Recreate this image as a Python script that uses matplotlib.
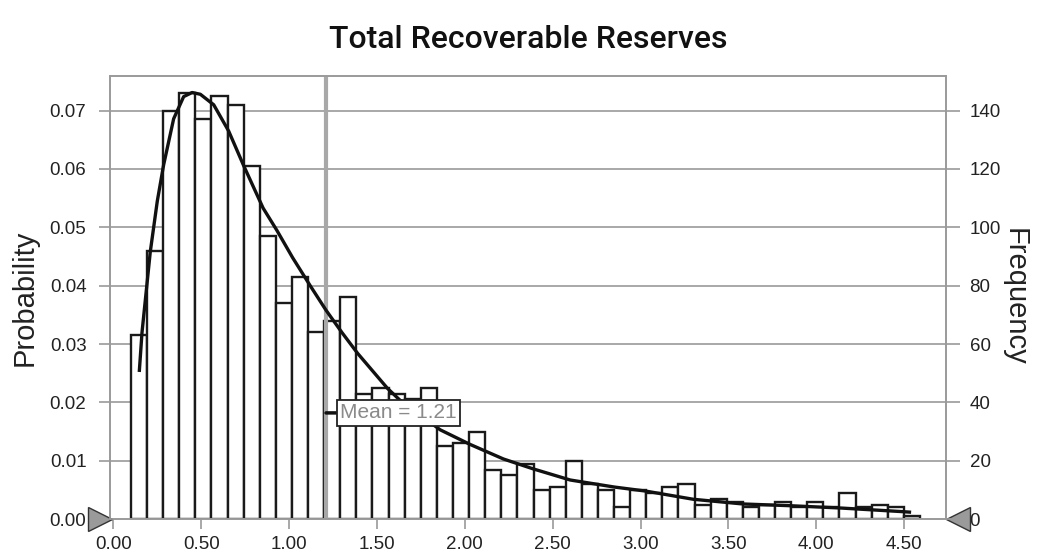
import matplotlib
matplotlib.use('Agg')
import matplotlib.pyplot as plt
import numpy as np

plt.rcParams['font.family'] = ['Liberation Sans', 'DejaVu Sans']

# simulation output: 2000 trials, 49 bins between 0.10 and 4.59
trials = 2000
bin_lo, bin_hi, n_bins = 0.10, 4.59, 49
freq = [63, 92, 140, 146, 137, 145, 142, 121, 97, 74,
        83, 64, 68, 76, 43, 45, 43, 41, 45, 25,
        26, 30, 17, 15, 19, 10, 11, 20, 12, 10,
        4, 10, 9, 11, 12, 5, 7, 6, 4, 5,
        6, 4, 6, 4, 9, 4, 5, 4, 1]
mean_val = 1.21

# fitted curve
fit_x = [0.148, 0.163, 0.21, 0.25, 0.286, 0.343, 0.40, 0.448, 0.495, 0.571,
         0.656, 0.741, 0.852, 0.93, 1.02, 1.12, 1.21, 1.30, 1.39, 1.56,
         1.63, 1.86, 2.03, 2.22, 2.39, 2.60, 2.85, 3.03, 3.30, 3.58,
         3.85, 4.14, 4.48, 4.53]
fit_y = [0.0255, 0.032, 0.0458, 0.0545, 0.0607, 0.0686, 0.0724, 0.0731, 0.0728, 0.0710,
         0.0665, 0.0606, 0.0533, 0.0495, 0.0448, 0.0400, 0.0358, 0.0320, 0.0284, 0.0224,
         0.0204, 0.0153, 0.0128, 0.0103, 0.0086, 0.0067, 0.0055, 0.0048, 0.0034, 0.0026,
         0.0023, 0.0019, 0.0013, 0.0012]

prob_ticks = [0.00, 0.01, 0.02, 0.03, 0.04, 0.05, 0.06, 0.07]
freq_ticks = [0, 20, 40, 60, 80, 100, 120, 140]
x_ticks = [0.0, 0.5, 1.0, 1.5, 2.0, 2.5, 3.0, 3.5, 4.0, 4.5]

edges = np.linspace(bin_lo, bin_hi, n_bins + 1)
width = edges[1] - edges[0]
prob = np.array(freq) / trials

fig = plt.figure(figsize=(10.39, 5.6), dpi=100)
ax = fig.add_axes([0.1059, 0.073, 0.8046, 0.792])
grid_c = '#9a9a9a'
ymax = 0.0760

ax.set_xlim(-0.019, 4.738)
ax.set_ylim(0, ymax)
for t in prob_ticks[1:]:
    ax.axhline(t, color=grid_c, lw=1.2, zorder=0)

ax.bar(edges[:-1], prob, width=width, align='edge', color='white',
       edgecolor='#1a1a1a', linewidth=1.7, zorder=2)
ax.axvline(mean_val, color='#a8a8a8', lw=3, zorder=3)
ax.plot(fit_x, fit_y, color='#111111', lw=2.4, zorder=4, solid_joinstyle='round')

ax.annotate('Mean = 1.21', xy=(mean_val, 0.0182), xytext=(1.29, 0.0182),
            fontsize=15, color='#8a8a8a', va='center', ha='left',
            arrowprops=dict(arrowstyle='-', color='#111111', lw=2.5, shrinkA=0, shrinkB=0),
            bbox=dict(boxstyle='square,pad=0.15', fc='white', ec='#222222', lw=1.3),
            zorder=5)

for s in ax.spines.values():
    s.set_color(grid_c)
    s.set_linewidth(1.2)

ax.set_xticks(x_ticks)
ax.set_xticklabels(['%.2f' % v for v in x_ticks])
ax.set_yticks(prob_ticks)
ax.set_yticklabels(['%.2f' % v for v in prob_ticks])
ax.tick_params(axis='x', length=7, width=1.2, color=grid_c, pad=5,
               labelsize=13.5, labelcolor='#222222')
ax.tick_params(axis='y', length=8, width=1.2, color=grid_c, pad=9,
               labelsize=13.5, labelcolor='#222222')
ax.set_ylabel('Probability', fontsize=21, labelpad=8, color='#222222')

ax2 = ax.twinx()
ax2.set_ylim(0, ymax * trials)
ax2.set_yticks(freq_ticks)
ax2.tick_params(axis='y', length=10, width=1.2, color=grid_c, pad=7,
                labelsize=13.5, labelcolor='#222222')
for s in ax2.spines.values():
    s.set_color(grid_c)
    s.set_linewidth(1.2)
ax2.set_ylabel('Frequency', fontsize=21, rotation=270, labelpad=20, color='#222222')

# certainty grabbers at both ends of the baseline
ax.plot([-0.012], [0], marker='>', markersize=17, color='#9a9a9a',
        markeredgecolor='#333333', transform=ax.get_yaxis_transform(),
        clip_on=False, zorder=6)
ax.plot([1.014], [0], marker='<', markersize=17, color='#9a9a9a',
        markeredgecolor='#333333', transform=ax.get_yaxis_transform(),
        clip_on=False, zorder=6)

fig.text(0.508, 0.93, 'Total Recoverable Reserves', ha='center', va='center',
         fontsize=23, fontweight='medium', color='#111111',
         family=['Roboto', 'Liberation Sans'])

fig.savefig('out.png', dpi=100, facecolor='white')
